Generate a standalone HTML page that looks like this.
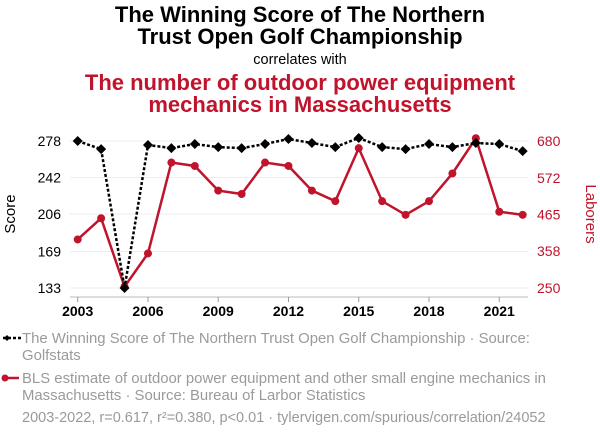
<!DOCTYPE html>
<html><head><meta charset="utf-8"><style>
body{margin:0;width:600px;height:436px;background:#fff;font-family:"Liberation Sans",Arial,sans-serif;overflow:hidden}
svg text{font-family:"Liberation Sans",Arial,sans-serif}
</style></head><body>
<svg id="c" width="600" height="436" viewBox="0 0 600 436">
<text x="300" y="22" text-anchor="middle" font-size="22" font-weight="bold" fill="#000">The Winning Score of The Northern</text>
<text x="300" y="44" text-anchor="middle" font-size="22" font-weight="bold" fill="#000">Trust Open Golf Championship</text>
<text x="300" y="64" text-anchor="middle" font-size="14.5" fill="#000">correlates with</text>
<text x="300" y="90" text-anchor="middle" font-size="22" font-weight="bold" fill="#c0132c">The number of outdoor power equipment</text>
<text x="300" y="112" text-anchor="middle" font-size="22" font-weight="bold" fill="#c0132c">mechanics in Massachusetts</text>
<g id="grid"></g><g id="axes"></g><g id="marks"></g>
<text transform="translate(15,214) rotate(-90)" text-anchor="middle" font-size="15" fill="#000">Score</text>
<text transform="translate(586,214) rotate(90)" text-anchor="middle" font-size="15" fill="#c0132c">Laborers</text>
<g>
<line x1="3" y1="338" x2="22" y2="338" stroke="#000" stroke-width="2.5" stroke-dasharray="3,2"/>
<path d="M4,338 L7,335 L10,338 L7,341Z" fill="#000"/>
<text x="22" y="343" font-size="14.9" fill="#9a9a9a">The Winning Score of The Northern Trust Open Golf Championship · Source:</text>
<text x="22" y="360" font-size="14.9" fill="#9a9a9a">Golfstats</text>
</g>
<g>
<line x1="3" y1="378" x2="19" y2="378" stroke="#c0132c" stroke-width="2.5"/>
<circle cx="5" cy="378" r="3.5" fill="#c0132c"/>
<text x="22" y="383" font-size="14.9" fill="#9a9a9a">BLS estimate of outdoor power equipment and other small engine mechanics in</text>
<text x="22" y="400" font-size="14.9" fill="#9a9a9a">Massachusetts · Source: Bureau of Larbor Statistics</text>
</g>
<text x="22" y="422" font-size="14.5" fill="#9a9a9a">2003-2022, r=0.617, r²=0.380, p&lt;0.01 · tylervigen.com/spurious/correlation/24052</text>
</svg>
<script>
const years=[2003,2004,2005,2006,2007,2008,2009,2010,2011,2012,2013,2014,2015,2016,2017,2018,2019,2020,2021,2022];
const scores=[278,270,133,274,271,275,272,271,275,280,276,272,281,272,270,275,272,276,275,268];
const labors=[392,454,254,351,617,607,535,525,617,607,535,504,659,504,464,504,585,688,473,464];
const leftTicks=[133,169,206,242,278];
const rightTicks=[250,358,465,572,680];
const xTicks=[2003,2006,2009,2012,2015,2018,2021];
const NS="http://www.w3.org/2000/svg";
const x=y=>77.7+(y-2003)*23.42;
const yL=v=>141+(278-v)*(147/145);
const yR=v=>141+(680-v)*(147/430);
function mk(t,a,p){const e=document.createElementNS(NS,t);for(const k in a)e.setAttribute(k,a[k]);p.appendChild(e);return e;}
const grid=document.getElementById('grid'),axes=document.getElementById('axes'),marks=document.getElementById('marks');
leftTicks.forEach((v,i)=>{
 const g=mk('line',{x1:70,x2:528,y1:yL(v),y2:yL(v),stroke:'#eee','stroke-width':1},grid);
 
 
 const t=mk('text',{x:61,y:yL(v)+5,'text-anchor':'end','font-size':14,fill:'#000'},axes);t.textContent=v;
 
 
 const r=mk('text',{x:537,y:yR(rightTicks[i])+5,'text-anchor':'start','font-size':14,fill:'#c0132c'},axes);r.textContent=rightTicks[i];
 
 
});
const ax=mk('line',{x1:70,x2:528,y1:297,y2:297,stroke:'#bbb','stroke-width':1},axes);


xTicks.forEach(yr=>{
 mk('line',{x1:x(yr),x2:x(yr),y1:297,y2:302,stroke:'#999'},axes);
 const t=mk('text',{x:x(yr),y:316,'text-anchor':'middle','font-size':14,'font-weight':'bold',fill:'#000'},axes);t.textContent=yr;
 
 
});
const rl=mk('polyline',{points:years.map((y,i)=>x(y)+','+yR(labors[i])).join(' '),fill:'none',stroke:'#c0132c','stroke-width':2.5},marks);


labors.forEach((v,i)=>{const c=mk('circle',{cx:x(years[i]),cy:yR(v),r:4,fill:'#c0132c'},marks);
 
 });
const bl=mk('polyline',{points:years.map((y,i)=>x(y)+','+yL(scores[i])).join(' '),fill:'none',stroke:'#000','stroke-width':2.5,'stroke-dasharray':'3,2'},marks);


scores.forEach((v,i)=>{const cx=x(years[i]),cy=yL(v);
 const d=mk('path',{d:`M${cx-5},${cy} L${cx},${cy-5} L${cx+5},${cy} L${cx},${cy+5}Z`,fill:'#000'},marks);
 
 });
</script>
</body></html>
